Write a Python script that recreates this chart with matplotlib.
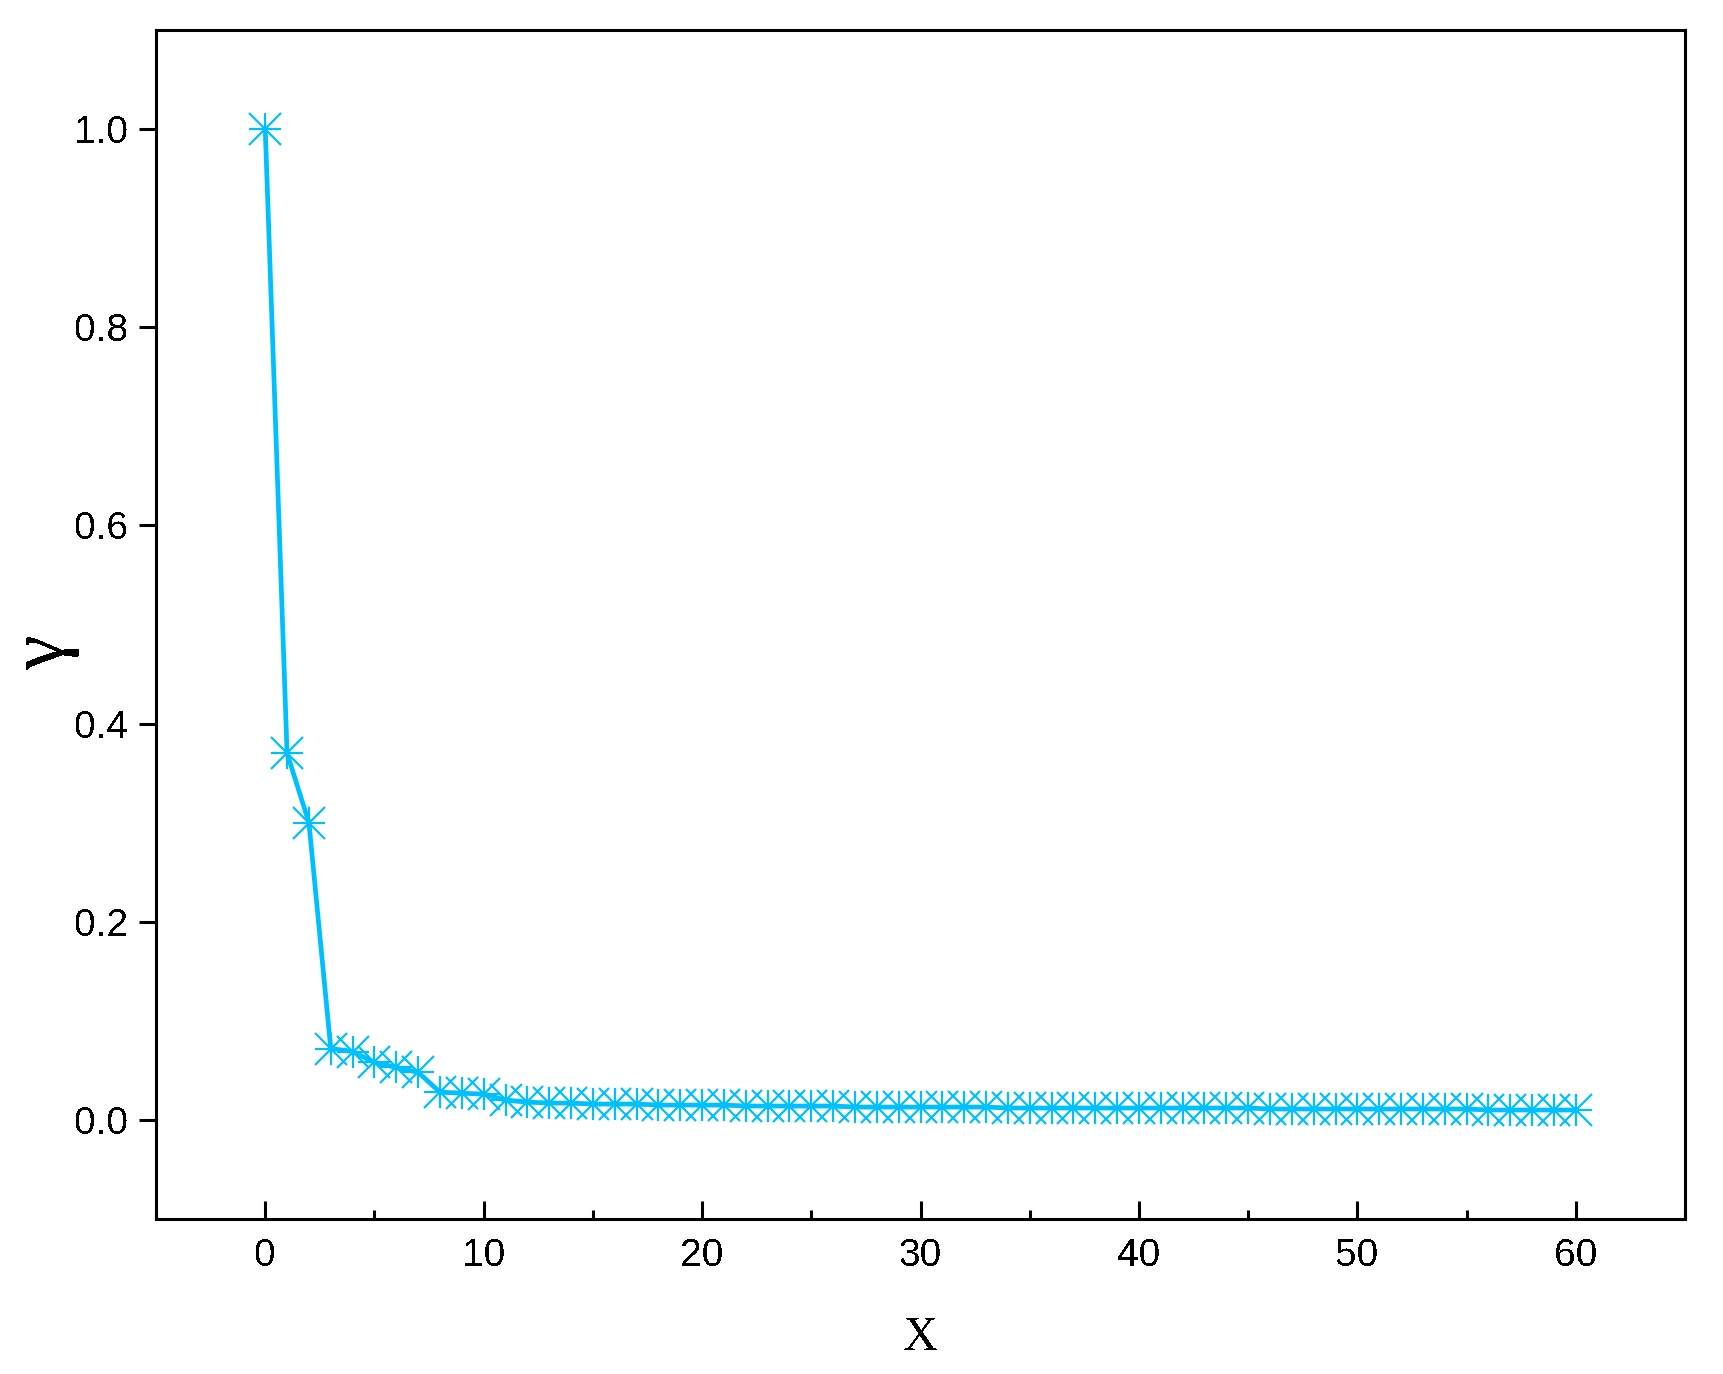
import matplotlib
matplotlib.use("Agg")
import matplotlib.pyplot as plt
from matplotlib.ticker import MultipleLocator

plt.rcParams["text.antialiased"] = False

x_values = list(range(0, 61))
gamma_values = [
    1.000, 0.370, 0.300, 0.072, 0.069, 0.058, 0.053, 0.048, 0.028, 0.027,
    0.026, 0.020, 0.018, 0.017, 0.017, 0.016, 0.016, 0.016, 0.015, 0.015,
    0.015, 0.015, 0.014, 0.014, 0.014, 0.014, 0.014, 0.013, 0.013, 0.013,
    0.013, 0.013, 0.013, 0.013, 0.012, 0.012, 0.012, 0.012, 0.012, 0.012,
    0.012, 0.012, 0.012, 0.012, 0.012, 0.012, 0.011, 0.011, 0.011, 0.011,
    0.011, 0.011, 0.011, 0.011, 0.011, 0.011, 0.010, 0.010, 0.010, 0.010,
    0.010,
]
x_ticks = [0, 10, 20, 30, 40, 50, 60]
y_ticks = [0.0, 0.2, 0.4, 0.6, 0.8, 1.0]

color = "#00BFFF"

fig = plt.figure(figsize=(17.24, 13.74), dpi=100)
ax = fig.add_axes([0.0905, 0.1128, 0.8869, 0.8654])

ax.plot(x_values, gamma_values, color=color, linewidth=3.4, zorder=2,
        solid_joinstyle="round")
ax.plot(x_values, gamma_values, linestyle="none", marker="+", markersize=23,
        markeredgewidth=1.6, color=color, zorder=3)
ax.plot(x_values, gamma_values, linestyle="none", marker="x", markersize=23,
        markeredgewidth=1.6, color=color, zorder=3)

ax.set_xlim(-5, 65)
ax.set_ylim(-0.1, 1.1)
ax.set_xticks(x_ticks)
ax.set_xticklabels([str(v) for v in x_ticks])
ax.set_yticks(y_ticks)
ax.set_yticklabels([f"{v:.1f}" for v in y_ticks])
ax.xaxis.set_minor_locator(MultipleLocator(5))

for sp in ax.spines.values():
    sp.set_linewidth(2.2)

ax.tick_params(axis="x", which="major", direction="in", length=13, width=2.2,
               pad=14, labelsize=28, top=False)
ax.tick_params(axis="x", which="minor", direction="in", length=6.5, width=2.2,
               top=False)
ax.tick_params(axis="y", which="major", direction="out", length=12, width=2.2,
               pad=8, labelsize=28, right=False)
for lab in ax.get_xticklabels() + ax.get_yticklabels():
    lab.set_fontfamily("Liberation Sans")

ax.set_xlabel("X", fontfamily="Liberation Serif", fontsize=35, labelpad=30)
ax.set_ylabel("")
fig.text(44 / 1724, 1 - 652 / 1374, "γ", fontfamily="Liberation Serif",
         fontsize=56, rotation=90, ha="center", va="center")

fig.savefig("out.png", dpi=100)
